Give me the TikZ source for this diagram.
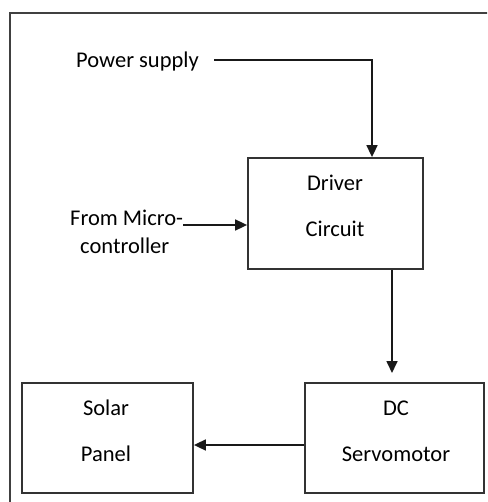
\documentclass[tikz,border=0pt]{standalone}
\usepackage{fontspec}
\setmainfont{Carlito}
\usetikzlibrary{arrows.meta}
\begin{document}
\begin{tikzpicture}[x=1pt,y=-1pt,
  blk/.style={draw=black!80,line width=1.8pt,minimum width=#1,inner sep=0pt},
  lbl/.style={font=\fontsize{22.5}{26}\selectfont,text=black,inner sep=0pt},
  conn/.style={draw=black!90,line width=1.7pt,-{Triangle[length=12pt,width=11pt]}}]
\useasboundingbox (0,0) rectangle (487,502);
\clip (0,0) rectangle (487,502);
\draw[draw=black!75,line width=2.2pt] (10,13) rectangle (500,520);
% boxes
\node[blk=175pt,minimum height=111pt] (drv) at (335.5,213.5) {};
\node[blk=179pt,minimum height=110pt] (srv) at (394.5,438) {};
\node[blk=171pt,minimum height=110pt] (sol) at (107.5,438) {};
% box texts
\node[lbl] (t1) at (335,183) {Driver};
\node[lbl] (t2) at (335,229) {Circuit};
\node[lbl] (t3) at (396,408) {DC};
\node[lbl] (t4) at (396,454) {Servomotor};
\node[lbl] (t5) at (106,408) {Solar};
\node[lbl] (t6) at (106,454) {Panel};
% outside labels
\node[lbl,anchor=west] (ps) at (76,62) {Power supply};
\node[lbl,anchor=west] (mc1) at (70,218) {From Micro-};
\node[lbl,anchor=west] (mc2) at (80,246) {controller};
% connectors
\coordinate (pstart) at (214,60);
\coordinate (pcorner) at (372,60);
\coordinate (mstart) at (183,225);
\coordinate (dend) at (392,373);
\draw[conn] (pstart) -- (pcorner) -- (pcorner |- drv.north);
\draw[conn] (mstart) -- (drv.west |- mstart);
\draw[conn] (drv.south -| dend) -- (dend);
\draw[conn] (srv.west |- 0,445) -- (sol.east |- 0,445);
\end{tikzpicture}
\end{document}
